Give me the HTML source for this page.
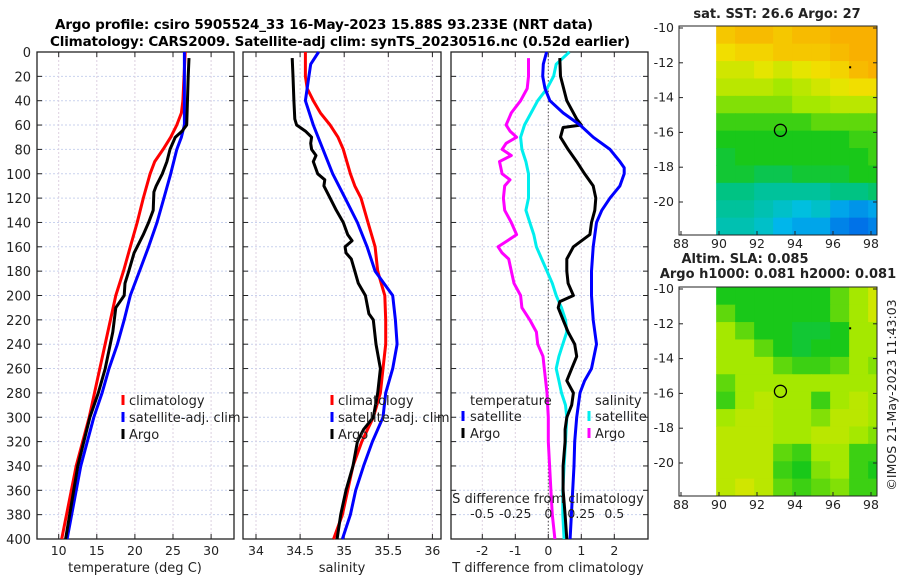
<!DOCTYPE html>
<html><head><meta charset="utf-8"><style>
html,body{margin:0;padding:0;background:#fff;}
svg{display:block;font-family:"DejaVu Sans","Liberation Sans",sans-serif;}
</style></head><body>
<svg id="chart" width="900" height="580" viewBox="0 0 900 580">
<text x="55" y="29" font-size="13.5" font-weight="bold" textLength="538">Argo profile: csiro 5905524_33 16-May-2023 15.88S 93.233E (NRT data)</text>
<text x="50" y="46" font-size="13.5" font-weight="bold" textLength="580">Climatology: CARS2009. Satellite-adj clim: synTS_20230516.nc (0.52d earlier)</text>
<g id="layer"></g>
</svg>
<script>
// ---------- profile data ----------
const tClimDepth=[0,40,50,60,70,80,90,100,120,140,160,180,200,260,300,340,400];
const tClimVal=[26.6,26.3,26.1,25.5,24.7,23.7,22.6,22.0,21.1,20.3,19.4,18.5,17.5,15.4,14.0,12.3,10.4];
const tSatDepth=[0,60,70,80,100,120,140,160,180,200,220,240,260,280,300,340,400];
const tSatVal=[26.5,26.5,26.1,25.5,24.7,23.8,22.9,21.8,20.6,19.4,18.6,17.7,16.6,15.7,14.6,12.9,11.1];
const tArgoDepth=[5,20,60,65,70,80,90,100,110,115,130,140,150,160,165,180,190,200,210,230,260,280,300,340,400];
const tArgoVal=[27.1,27.0,26.8,26.2,25.3,24.6,24.2,23.6,22.8,22.5,22.4,21.8,21.1,20.3,19.9,19.2,18.7,18.6,17.5,17.1,16.1,15.2,14.1,12.5,10.9];

const sClimDepth=[0,20,30,40,50,60,70,80,100,110,120,140,160,180,195,200,220,240,260,280,300,320,340,360,380,400];
const sClimVal=[34.56,34.56,34.58,34.65,34.73,34.84,34.93,34.99,35.07,35.12,35.19,35.27,35.35,35.38,35.44,35.46,35.47,35.47,35.44,35.41,35.33,35.2,35.1,35.04,34.98,34.88];
const sSatDepth=[0,10,20,40,60,80,100,120,140,160,180,200,220,240,260,280,300,320,340,360,380,400];
const sSatVal=[34.71,34.62,34.6,34.56,34.65,34.76,34.87,35.01,35.15,35.26,35.35,35.55,35.58,35.6,35.55,35.47,35.44,35.32,35.22,35.13,35.07,34.98];
const sArgoDepth=[5,20,40,55,60,65,70,75,80,85,90,100,105,110,120,130,140,150,155,160,165,170,180,190,200,215,220,240,260,280,300,310,320,340,360,380,400];
const sArgoVal=[34.41,34.42,34.43,34.44,34.46,34.56,34.63,34.62,34.63,34.68,34.65,34.7,34.78,34.77,34.84,34.91,34.99,35.04,35.09,35.01,35.02,35.08,35.12,35.16,35.24,35.28,35.33,35.36,35.41,35.38,35.33,35.22,35.15,35.1,35.02,34.96,34.92];

const dTSatDepth=[0,10,20,30,40,50,60,70,80,90,95,100,110,120,130,140,160,180,200,220,240,260,270,280,300,320,340,360,380,400];
const dTSatVal=[-0.05,-0.15,-0.17,-0.1,0.05,0.45,0.96,1.36,1.87,2.17,2.3,2.3,2.17,1.87,1.62,1.46,1.36,1.31,1.31,1.36,1.46,1.31,1.1,0.96,0.86,0.8,0.78,0.74,0.7,0.66];
const dTArgoDepth=[5,20,40,55,60,62,70,80,90,100,110,120,130,140,150,160,170,180,190,200,205,210,220,230,240,250,260,270,280,290,300,310,320,340,360,380,400];
const dTArgoVal=[0.35,0.37,0.56,0.86,1.0,0.45,0.37,0.6,0.86,1.1,1.36,1.44,1.41,1.31,1.26,0.76,0.56,0.56,0.6,0.76,0.35,0.3,0.45,0.6,0.8,0.86,0.71,0.56,0.76,0.71,0.56,0.51,0.51,0.45,0.45,0.51,0.56];
const dSSatDepth=[0,10,20,30,40,50,60,70,80,90,100,120,130,140,150,160,170,180,190,200,210,220,230,240,250,260,270,280,290,300,320,340,360,380,400];
const dSSatVal=[0.16,0.06,0.04,-0.01,-0.08,-0.13,-0.18,-0.21,-0.2,-0.17,-0.15,-0.15,-0.17,-0.14,-0.11,-0.09,-0.05,-0.01,0.03,0.06,0.1,0.13,0.14,0.11,0.08,0.06,0.08,0.1,0.13,0.14,0.13,0.12,0.11,0.11,0.12];
const dSArgoDepth=[5,20,30,40,50,60,65,70,75,80,85,90,100,105,110,120,130,140,150,155,160,165,170,180,190,200,210,220,230,240,250,260,280,300,320,340,360,380,400];
const dSArgoVal=[-0.15,-0.15,-0.16,-0.21,-0.28,-0.32,-0.29,-0.24,-0.32,-0.35,-0.28,-0.37,-0.35,-0.29,-0.33,-0.34,-0.33,-0.28,-0.24,-0.31,-0.38,-0.35,-0.3,-0.28,-0.26,-0.21,-0.2,-0.14,-0.09,-0.08,-0.04,-0.03,-0.01,0.0,0.0,0.01,0.02,0.03,0.05];

// ---------- map data ----------
const mapLats=[-10,-11,-12,-13,-14,-15,-16,-17,-18,-19,-20,-21];
const mapLons=[90,91,92,93,94,95,96,97,98];
const sstGrid=[
[27.4,27.5,27.5,27.4,27.5,27.5,27.6,27.6,27.6],
[27.2,27.3,27.3,27.4,27.4,27.4,27.5,27.6,27.6],
[27.0,27.0,27.1,27.0,27.1,27.2,27.3,27.5,27.6],
[26.9,26.9,26.9,26.8,26.9,27.0,27.1,27.2,27.2],
[26.7,26.7,26.7,26.7,26.8,26.8,26.9,26.9,26.9],
[26.5,26.5,26.5,26.5,26.5,26.6,26.6,26.6,26.6],
[26.4,26.4,26.4,26.4,26.4,26.4,26.4,26.5,26.5],
[26.3,26.4,26.4,26.4,26.4,26.4,26.4,26.4,26.5],
[26.3,26.3,26.2,26.2,26.3,26.3,26.3,26.4,26.4],
[26.0,26.0,25.9,25.9,25.9,25.9,26.0,26.0,26.1],
[25.9,25.9,25.8,25.7,25.6,25.7,25.4,25.3,25.4],
[25.8,25.8,25.7,25.5,25.4,25.4,25.2,25.1,25.2]];
const slaGrid=[
[.07,.07,.07,.07,.07,.07,.08,.09,.10],
[.08,.07,.07,.07,.07,.07,.08,.09,.10],
[.09,.08,.07,.07,.065,.065,.07,.09,.09],
[.09,.09,.08,.07,.065,.07,.07,.09,.09],
[.09,.09,.09,.08,.075,.075,.08,.09,.085],
[.08,.09,.09,.09,.09,.09,.09,.09,.09],
[.075,.09,.095,.09,.09,.075,.09,.095,.09],
[.09,.095,.095,.09,.09,.085,.095,.095,.09],
[.095,.095,.095,.09,.09,.095,.095,.09,.085],
[.095,.095,.095,.08,.075,.09,.09,.075,.075],
[.095,.095,.095,.075,.07,.085,.09,.075,.07],
[.095,.1,.095,.08,.075,.08,.085,.075,.075]];
const argoLon=93.233, argoLat=-15.88;
const depthTicks=[0,20,40,60,80,100,120,140,160,180,200,220,240,260,280,300,320,340,360,380,400];
const tTicks=[10,15,20,25,30];
const sTicks=[34,34.5,35,35.5,36];
const dTTicks=[-2,-1,0,1,2];
const dSTicks=[-0.5,-0.25,0,0.25,0.5];
const latTicks=[-10,-12,-14,-16,-18,-20];
const lonTicks=[88,90,92,94,96,98];

const NS='http://www.w3.org/2000/svg';
const L=document.getElementById('layer');
function mk(tag,attrs,parent){const e=document.createElementNS(NS,tag);for(const k in attrs)e.setAttribute(k,attrs[k]);(parent||L).appendChild(e);return e;}
function txt(x,y,s,size,anchor,parent){const e=mk('text',{x:x,y:y,'font-size':size,'text-anchor':anchor||'middle',fill:'#222'},parent);e.textContent=s;return e;}

const yD=d=>52+d*1.2175;
const panels=[
 {x0:37,x1:234,xs:t=>58.7+(t-10)*7.62,ticks:tTicks,label:'temperature (deg C)',lx:135,name:'temperature-panel'},
 {x0:243,x1:441,xs:s=>256+(s-34)*88.2,ticks:sTicks,label:'salinity',lx:342,name:'salinity-panel'},
 {x0:451,x1:648,xs:t=>548.3+t*33,ticks:dTTicks,label:'T difference from climatology',lx:548,name:'difference-panel'}];
const xSd=s=>548.3+s*132;

panels.forEach((p,pi)=>{
  const g=mk('g',{});
  
  
  depthTicks.forEach(d=>{const y=yD(d);
    if(d>0&&d<400){const gl=mk('line',{x1:p.x0,x2:p.x1,y1:y,y2:y,stroke:'#c9d2ee','stroke-width':1,'stroke-dasharray':'2,2'},g);}
    mk('line',{x1:p.x0,x2:p.x0+5,y1:y,y2:y,stroke:'#222'},g);
    mk('line',{x1:p.x1,x2:p.x1-5,y1:y,y2:y,stroke:'#222'},g);
    if(pi===0){const t=txt(31,y+5,String(d),13,'end',g);}
  });
  p.ticks.forEach(v=>{const x=p.xs(v);
    mk('line',{x1:x,x2:x,y1:52,y2:539,stroke:'#ddd0e0','stroke-width':1,'stroke-dasharray':'2,2'},g);
    mk('line',{x1:x,x2:x,y1:539,y2:534,stroke:'#222'},g);
    mk('line',{x1:x,x2:x,y1:52,y2:57,stroke:'#222'},g);
    const t=txt(x,555,String(v),12.5,'middle',g);
    
  });
  const r=mk('rect',{x:p.x0,y:52,width:p.x1-p.x0,height:487,fill:'none',stroke:'#222','stroke-width':1.3},g);
  
  const lab=txt(p.lx,572,p.label,13,'middle',g);
  
});
const zl=mk('line',{x1:548.3,x2:548.3,y1:52,y2:539,stroke:'#555','stroke-dasharray':'1.5,2'});


function line(depths,vals,xf,color,name){
  const pts=depths.map((d,i)=>xf(vals[i]).toFixed(1)+','+yD(d).toFixed(1)).join(' ');
  const e=mk('polyline',{points:pts,fill:'none',stroke:color,'stroke-width':3,'stroke-linejoin':'round'});
  
  
}
const xT=panels[0].xs,xS=panels[1].xs,xTd=panels[2].xs;
line(tClimDepth,tClimVal,xT,'#ff0000','temperature-climatology-line');
line(tSatDepth,tSatVal,xT,'#0000ff','temperature-satellite-line');
line(tArgoDepth,tArgoVal,xT,'#000000','temperature-argo-line');
line(sClimDepth,sClimVal,xS,'#ff0000','salinity-climatology-line');
line(sSatDepth,sSatVal,xS,'#0000ff','salinity-satellite-line');
line(sArgoDepth,sArgoVal,xS,'#000000','salinity-argo-line');
line(dSArgoDepth,dSArgoVal,xSd,'#ff00ff','salinity-diff-argo-line');
line(dSSatDepth,dSSatVal,xSd,'#00eeee','salinity-diff-satellite-line');
line(dTArgoDepth,dTArgoVal,xTd,'#000000','temperature-diff-argo-line');
line(dTSatDepth,dTSatVal,xTd,'#0000ff','temperature-diff-satellite-line');

const sdt=txt(548,503,'S difference from climatology',13,'middle');

dSTicks.forEach(v=>{const t=txt(xSd(v),518,String(v),12.5,'middle');});

function legItem(mx,tx,y,color,label,name){
  const g=mk('g',{});
  
  
  mk('rect',{x:mx-1.5,y:y-10,width:3,height:10,fill:color},g);
  txt(tx,y,label,13,'start',g);
}
legItem(123,129,405,'#ff0000','climatology','legend-climatology');
legItem(123,129,422,'#0000ff','satellite-adj. clim','legend-satellite-adj');
legItem(123,129,439,'#000000','Argo','legend-argo');
legItem(332,338,405,'#ff0000','climatology','legend-climatology-2');
legItem(332,338,422,'#0000ff','satellite-adj. clim','legend-satellite-adj-2');
legItem(332,338,439,'#000000','Argo','legend-argo-2');
{const t=txt(470,405,'temperature',13,'start');
 const s=txt(595,405,'salinity',13,'start');}
legItem(463,470,421,'#0000ff','satellite','legend-t-satellite');
legItem(463,470,438,'#000000','Argo','legend-t-argo');
legItem(589,595,421,'#00eeee','satellite','legend-s-satellite');
legItem(589,595,438,'#ff00ff','Argo','legend-s-argo');

// ---------- maps ----------
const cmapStops=[[0,[0,0,160]],[0.2,[0,80,230]],[0.33,[0,190,235]],[0.43,[0,195,120]],[0.5,[25,200,25]],[0.58,[165,232,0]],[0.65,[240,228,0]],[0.75,[250,170,0]],[0.9,[240,80,0]],[1,[180,0,0]]];
function cmap(t){t=Math.max(0,Math.min(1,t));
  for(let i=1;i<cmapStops.length;i++){const a=cmapStops[i-1],b=cmapStops[i];
    if(t<=b[0]){const f=(t-a[0])/(b[0]-a[0]);return 'rgb('+a[1].map((v,k)=>Math.round(v+(b[1][k]-v)*f)).join(',')+')';}}
  return 'rgb(180,0,0)';}
function drawMap(top,grid,lo,hi,title1,title2,name){
  const g=mk('g',{});
  
  
  const xL=lon=>681+(lon-88)*19, yL=lat=>top+2+(-10-lat)*17.4;
  const clip=mk('clipPath',{id:'clip'+name},g);
  mk('rect',{x:679,y:top,width:198,height:209},clip);
  const cg=mk('g',{'clip-path':'url(#clip'+name+')'},g);
  mapLats.forEach((lat,i)=>mapLons.forEach((lon,j)=>{
    const c=mk('rect',{x:xL(lon-0.15),y:yL(lat+0.1),width:19.5,height:17.9,fill:cmap((grid[i][j]-lo)/(hi-lo))},cg);
    
    
  }));
  mk('rect',{x:679,y:top,width:198,height:209,fill:'none',stroke:'#222','stroke-width':1},g);
  latTicks.forEach(v=>{const y=yL(v);mk('line',{x1:679,x2:683,y1:y,y2:y,stroke:'#222'},g);mk('line',{x1:877,x2:873,y1:y,y2:y,stroke:'#222'},g);
    const t=txt(674,y+4,String(v),12.5,'end',g);});
  lonTicks.forEach(v=>{const x=xL(v);mk('line',{x1:x,x2:x,y1:top+209,y2:top+205,stroke:'#222'},g);
    const t=txt(x,top+222,String(v),12.5,'middle',g);});
  const c=mk('circle',{cx:xL(argoLon),cy:yL(argoLat),r:6,fill:'none',stroke:'#000','stroke-width':1.3},g);
  
  mk('rect',{x:xL(96.85),y:yL(-12.2),width:2,height:2,fill:'#000'},g);
  if(title2){const t1=txt(745,top-24,title1,13,'middle',g);t1.setAttribute('font-weight','bold');
    const t2=txt(778,top-9,title2,13,'middle',g);t2.setAttribute('font-weight','bold');}
  else{const t1=txt(777,top-8,title1,13,'middle',g);t1.setAttribute('font-weight','bold');}
}
drawMap(26,sstGrid,23.9,28.9,'sat. SST: 26.6 Argo: 27',null,'sst-map');
drawMap(287,slaGrid,-0.055,0.195,'Altim. SLA: 0.085','Argo h1000: 0.081 h2000: 0.081','sla-map');
const cr=txt(0,0,'©IMOS 21-May-2023 11:43:03',12.5,'middle');
cr.setAttribute('transform','translate(896,395) rotate(-90)');


</script>
</body></html>
